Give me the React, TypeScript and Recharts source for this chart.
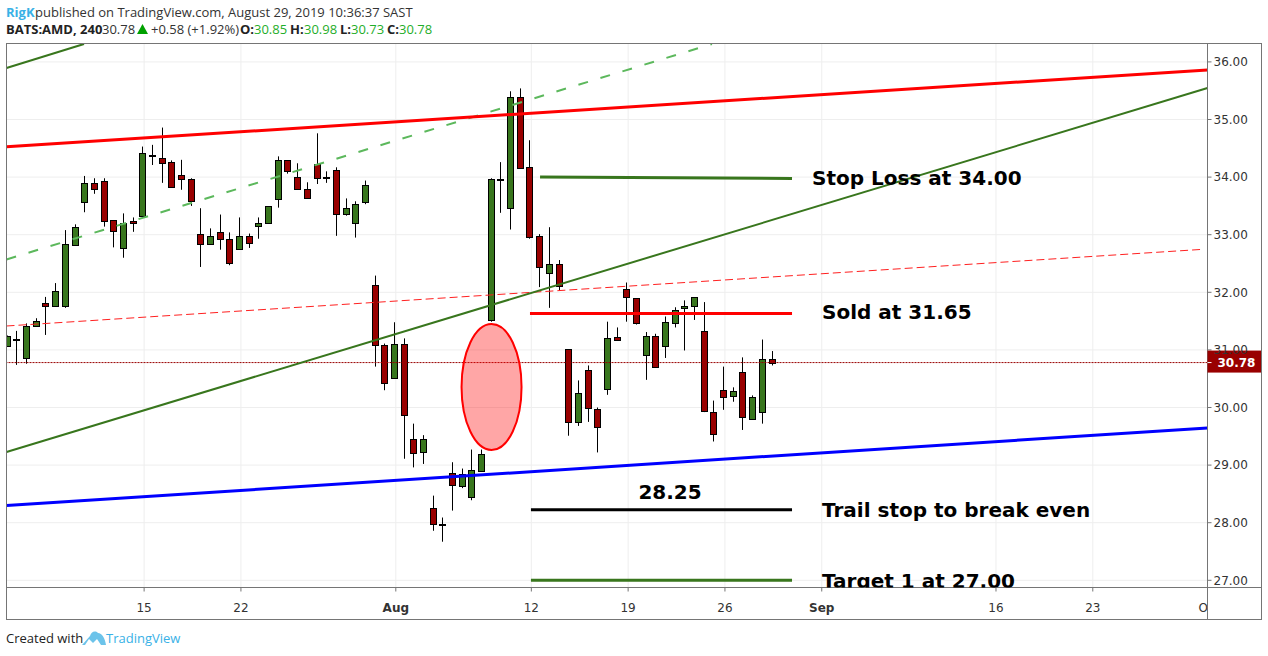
import React from 'react';
import {
  Bar,
  CartesianGrid,
  ComposedChart,
  ReferenceDot,
  ReferenceLine,
  XAxis,
  YAxis,
} from 'recharts';

const opens = [
  31.07, 31.17, 30.86, 31.41, 31.81, 31.77, 31.75, 32.83, 33.56, 33.89,
  33.93, 33.25, 32.78, 33.23, 33.32, 34.38, 34.34, 34.26, 34.03, 33.96,
  33.01, 32.83, 33.04, 32.92, 32.75, 32.97, 33.16, 33.2, 33.61, 34.29,
  34.01, 33.8, 34.22, 33.99, 34.12, 33.37, 33.21, 33.56, 32.12, 31.08,
  30.51, 31.1, 29.46, 29.22, 28.25, 27.98, 28.86, 28.63, 28.44, 28.91,
  31.51, 33.95, 33.46, 35.39, 34.17, 32.97, 32.33, 32.49, 31.01, 29.74,
  30.65, 29.97, 30.31, 31.22, 32.05, 31.9, 30.92, 31.25, 31.06, 31.48,
  31.74, 31.76, 31.32, 29.93, 30.31, 30.19, 30.61, 29.81, 29.92, 30.85,
];
const closes = [
  31.25, 31.19, 31.41, 31.5, 31.76, 32.03, 32.83, 33.14, 33.89, 33.79,
  33.23, 33.06, 33.21, 33.2, 34.41, 34.39, 34.26, 33.82, 33.96, 33.58,
  32.83, 32.97, 32.92, 32.5, 32.97, 32.85, 33.21, 33.49, 34.29, 34.1,
  33.8, 33.65, 33.98, 34.0, 33.35, 33.47, 33.54, 33.86, 31.08, 30.42,
  31.1, 29.86, 29.22, 29.45, 27.97, 27.97, 28.65, 28.84, 28.91, 29.2,
  33.96, 33.96, 35.39, 34.16, 32.95, 32.43, 32.49, 32.1, 29.74, 30.25,
  29.99, 29.66, 31.2, 31.17, 31.91, 31.46, 31.25, 30.71, 31.48, 31.7,
  31.77, 31.91, 29.93, 29.55, 30.19, 30.28, 29.83, 30.19, 30.84, 30.78,
];
const highs = [
  31.25, 31.33, 31.46, 31.55, 31.92, 32.16, 33.08, 33.18, 34.02, 33.98,
  33.98, 33.25, 33.37, 33.3, 34.53, 34.56, 34.86, 34.29, 34.3, 33.98,
  33.46, 33.11, 33.35, 33.04, 33.3, 33.02, 33.3, 33.49, 34.36, 34.29,
  34.24, 33.91, 34.76, 34.1, 34.17, 33.63, 33.58, 33.94, 32.29, 31.11,
  31.48, 31.2, 29.72, 29.52, 28.47, 28.09, 29.05, 28.94, 29.27, 29.27,
  33.98, 34.26, 35.49, 35.54, 34.64, 33.01, 33.13, 32.56, 31.01, 30.47,
  30.73, 30.0, 31.49, 31.39, 32.17, 31.9, 31.31, 31.28, 31.58, 31.74,
  31.86, 31.91, 31.83, 30.12, 30.71, 30.35, 30.87, 30.21, 31.18, 30.98,
];
const lows = [
  31.07, 30.74, 30.76, 31.41, 31.26, 31.77, 31.73, 32.83, 33.39, 33.71,
  33.14, 32.78, 32.6, 33.05, 33.32, 34.21, 33.9, 33.82, 33.78, 33.5,
  32.44, 32.83, 32.74, 32.47, 32.75, 32.77, 32.93, 33.2, 33.47, 34.06,
  33.79, 33.65, 33.88, 33.9, 32.98, 33.33, 32.95, 33.53, 30.71, 30.3,
  30.51, 29.11, 28.96, 29.02, 27.86, 27.67, 28.21, 28.6, 28.39, 28.91,
  31.49, 33.38, 33.09, 34.16, 32.93, 32.09, 31.73, 32.03, 29.51, 29.68,
  29.75, 29.22, 30.22, 31.17, 31.49, 31.44, 30.48, 30.71, 30.86, 31.39,
  30.99, 31.52, 29.92, 29.41, 29.96, 30.1, 29.61, 29.81, 29.72, 30.73,
];

const priceTicks = [27, 28, 29, 30, 31, 32, 33, 34, 35, 36];
const dateTicks = [14, 24, 40, 54, 64, 74, 84, 102, 112, 124];
const dateLabels = ['15', '22', 'Aug', '12', '19', '26', 'Sep', '16', '23', 'Oct'];
const gridDates = [14, 24, 40, 54, 64, 74, 84, 102, 112];

const channelTop = [{ x: -0.217, y: 35.894 }, { x: 7.79, y: 36.311 }];
const channelMid = [{ x: -0.217, y: 32.57 }, { x: 72.66, y: 36.311 }];
const resistance = [{ x: -0.217, y: 34.528 }, { x: 123.85, y: 35.859 }];
const midResistance = [{ x: -0.217, y: 31.415 }, { x: 123.08, y: 32.743 }];
const risingSupport = [{ x: -0.217, y: 29.227 }, { x: 123.85, y: 35.547 }];
const support = [{ x: -0.217, y: 28.299 }, { x: 123.85, y: 29.644 }];
const stopLoss = [{ x: 54.9, y: 34.002 }, { x: 80.93, y: 33.976 }];
const soldAt = [{ x: 53.86, y: 31.63 }, { x: 80.93, y: 31.63 }];
const trailStop = [{ x: 53.96, y: 28.226 }, { x: 80.93, y: 28.226 }];
const target = [{ x: 53.96, y: 27.0 }, { x: 80.93, y: 27.0 }];

const lastPrice = 30.78;
const highlight = { x: 49.89, y: 30.356 };

const notes = [
  { x: 83.0, y: 33.985, text: 'Stop Loss at 34.00' },
  { x: 84.03, y: 31.66, text: 'Sold at 31.65' },
  { x: 84.03, y: 28.22, text: 'Trail stop to break even' },
  { x: 84.03, y: 26.99, text: 'Target 1 at 27.00' },
];
const trailLabel = { x: 68.33, y: 28.53, text: '28.25' };

const candles = opens.map((open, i) => ({
  index: i,
  open,
  close: closes[i],
  high: highs[i],
  low: lows[i],
}));

const UP = '#38761d';
const DOWN = '#990000';
const AXIS = '#757575';
const TEXT = '#333333';
const LABEL_FONT = '"DejaVu Sans", sans-serif';

const PLOT = { left: 6.5, top: 43.5, width: 1201, height: 544 };

function Candle(props: any) {
  const { x, y, width, height, payload } = props;
  const top = Math.min(y, y + height);
  const bottom = Math.max(y, y + height);
  const perUnit = (bottom - top) / (payload.high - payload.low);
  const center = Math.floor(x + width / 2 - 1) + 0.5;
  const bodyTop = top + (payload.high - Math.max(payload.open, payload.close)) * perUnit;
  const bodyBottom = top + (payload.high - Math.min(payload.open, payload.close)) * perUnit;
  const fill = payload.close >= payload.open ? UP : DOWN;
  return (
    <g>
      <line x1={center} x2={center} y1={top} y2={bottom} stroke="#000" strokeWidth={1} />
      <rect
        x={center - 3}
        y={Math.round(bodyTop) + 0.5}
        width={6}
        height={Math.max(Math.round(bodyBottom - bodyTop), 0.5)}
        fill={fill}
        stroke="#000"
        strokeWidth={1}
      />
    </g>
  );
}

function DateTick(props: any) {
  const { x, y, payload } = props;
  const label = dateLabels[dateTicks.indexOf(payload.value)];
  const bold = label === 'Aug' || label === 'Sep';
  return (
    <g>
      <clipPath id={`date-clip-${payload.value}`}>
        <rect x={PLOT.left} y={PLOT.top} width={PLOT.width} height={640 - PLOT.top} />
      </clipPath>
      <g clipPath={`url(#date-clip-${payload.value})`}>
        <line x1={x} x2={x} y1={PLOT.top + PLOT.height} y2={PLOT.top + PLOT.height + 4} stroke={AXIS} />
        <text
          x={x}
          y={y + 16}
          textAnchor="middle"
          fontSize={12}
          fontWeight={bold ? 700 : 400}
          fontFamily={LABEL_FONT}
          fill={TEXT}
        >
          {label}
        </text>
      </g>
    </g>
  );
}

function Note(props: any) {
  const { cx, cy, text, anchor } = props;
  return (
    <g>
      <clipPath id={`note-clip-${text.length}`}>
        <rect x={PLOT.left} y={PLOT.top} width={PLOT.width} height={PLOT.height} />
      </clipPath>
      <text
        x={cx}
        y={cy}
        dy="0.36em"
        textAnchor={anchor}
        fontSize={20}
        fontWeight={700}
        fontFamily={LABEL_FONT}
        fill="#000"
        clipPath={`url(#note-clip-${text.length})`}
      >
        {text}
      </text>
    </g>
  );
}

function PriceTag(props: any) {
  const { cx, cy } = props;
  return (
    <g>
      <rect x={cx} y={cy - 12} width={54.5} height={22} fill={DOWN} />
      <line x1={cx} x2={cx + 4} y1={cy} y2={cy} stroke="#fff" />
      <text
        x={cx + 10}
        y={cy + 4}
        fontSize={12}
        fontWeight={700}
        fontFamily={LABEL_FONT}
        fill="#fff"
      >
        {lastPrice.toFixed(2)}
      </text>
    </g>
  );
}

function Segment({ points, color, width, dash }: any) {
  return null;
}

const headerLeft = (x: number, y: number, color: string, text: string, bold = false) => (
  <span
    style={{
      position: 'absolute',
      left: x,
      top: y,
      color,
      fontWeight: bold ? 700 : 400,
      whiteSpace: 'nowrap',
    }}
  >
    {text}
  </span>
);

export default function App() {
  const green = '#1fae2a';
  return (
    <div
      style={{
        position: 'absolute',
        left: 0,
        top: 0,
        width: 1268,
        height: 656,
        background: '#fff',
        overflow: 'hidden',
        fontFamily: '"Open Sans", sans-serif',
        fontSize: 13,
        lineHeight: '18px',
      }}
    >
      {headerLeft(6, 3, '#39b1e6', 'RigK', true)}
      {headerLeft(35, 3, TEXT, 'published on TradingView.com, August 29, 2019 10:36:37 SAST')}
      {headerLeft(6, 20, '#222', 'BATS:AMD, 240', true)}
      {headerLeft(102, 20, TEXT, '30.78')}
      <svg style={{ position: 'absolute', left: 137, top: 24 }} width={11} height={10}>
        <polygon points="5.5,0 11,10 0,10" fill="#00a000" />
      </svg>
      {headerLeft(151, 20, TEXT, '+0.58 (+1.92%)')}
      {headerLeft(240, 20, '#222', 'O:', true)}
      {headerLeft(254, 20, green, '30.85')}
      {headerLeft(290, 20, '#222', 'H:', true)}
      {headerLeft(304, 20, green, '30.98')}
      {headerLeft(340, 20, '#222', 'L:', true)}
      {headerLeft(351, 20, green, '30.73')}
      {headerLeft(387, 20, '#222', 'C:', true)}
      {headerLeft(399, 20, green, '30.78')}

      <ComposedChart
        width={1268}
        height={656}
        data={candles}
        margin={{ top: 43.5, right: 6.5, bottom: 37, left: 6.5 }}
        style={{ position: 'absolute', left: 0, top: 0 }}
      >
        <CartesianGrid
          stroke="#eeeeee"
          strokeWidth={1}
          verticalValues={gridDates}
          horizontalValues={priceTicks}
        />
        <XAxis
          dataKey="index"
          type="number"
          scale="linear"
          domain={[-0.217, 123.85]}
          allowDataOverflow
          ticks={dateTicks}
          interval={0}
          height={31.5}
          axisLine={{ stroke: AXIS }}
          tickLine={false}
          tick={<DateTick />}
        />
        <YAxis
          type="number"
          orientation="right"
          domain={[26.875, 36.3195]}
          allowDataOverflow
          ticks={priceTicks}
          interval={0}
          width={54}
          axisLine={{ stroke: AXIS }}
          tickSize={4}
          tickLine={{ stroke: AXIS }}
          tickFormatter={(v: number) => v.toFixed(2)}
          tick={{ fontSize: 12, fontFamily: LABEL_FONT, fill: TEXT }}
        />
        <Bar
          dataKey={(d: any) => [d.low, d.high]}
          barSize={7}
          isAnimationActive={false}
          shape={<Candle />}
        />
        <ReferenceLine y={lastPrice} stroke={DOWN} strokeWidth={1} strokeDasharray="2 1" />
        <ReferenceLine segment={channelTop} stroke={UP} strokeWidth={2} ifOverflow="visible" />
        <ReferenceLine segment={channelMid} stroke="#5cb85c" strokeWidth={2} strokeDasharray="10 13" ifOverflow="visible" />
        <ReferenceLine segment={midResistance} stroke="#ff2020" strokeWidth={1} strokeDasharray="8 4" ifOverflow="visible" />
        <ReferenceLine segment={risingSupport} stroke={UP} strokeWidth={2} ifOverflow="visible" />
        <ReferenceLine segment={resistance} stroke="#ff0000" strokeWidth={3} ifOverflow="visible" />
        <ReferenceLine segment={support} stroke="#0000ff" strokeWidth={3} ifOverflow="visible" />
        <ReferenceLine segment={stopLoss} stroke={UP} strokeWidth={3} ifOverflow="visible" />
        <ReferenceLine segment={soldAt} stroke="#ff0000" strokeWidth={3} ifOverflow="visible" />
        <ReferenceLine segment={trailStop} stroke="#000000" strokeWidth={3} ifOverflow="visible" />
        <ReferenceLine segment={target} stroke={UP} strokeWidth={3} ifOverflow="visible" />
        <ReferenceDot
          x={highlight.x}
          y={highlight.y}
          shape={(p: any) => (
            <ellipse
              cx={p.cx}
              cy={p.cy}
              rx={30}
              ry={63}
              fill="rgba(255,0,0,0.35)"
              stroke="#ff0000"
              strokeWidth={2}
            />
          )}
        />
        {notes.map((n) => (
          <ReferenceDot
            key={n.text}
            x={n.x}
            y={n.y}
            shape={(p: any) => <Note cx={p.cx} cy={p.cy} text={n.text} anchor="start" />}
          />
        ))}
        <ReferenceDot
          x={trailLabel.x}
          y={trailLabel.y}
          shape={(p: any) => <Note cx={p.cx} cy={p.cy} text={trailLabel.text} anchor="middle" />}
        />
        <ReferenceDot x={123.85} y={lastPrice} shape={(p: any) => <PriceTag cx={p.cx} cy={p.cy} />} />
      </ComposedChart>

      <div style={{ position: 'absolute', left: 6, top: 43, width: 1256, height: 577, boxSizing: 'border-box', border: `1px solid ${AXIS}`, pointerEvents: 'none' }} />
      <div style={{ position: 'absolute', left: 1207, top: 587, width: 1, height: 32, background: AXIS }} />
      <div style={{ position: 'absolute', left: 1207, top: 587, width: 55, height: 1, background: AXIS }} />

      {headerLeft(6, 629, '#222', 'Created with')}
      <svg style={{ position: 'absolute', left: 82, top: 630 }} width={24} height={16} viewBox="0 0 24 16">
        <path
          d="M0 15 L8 6 C9 2 13 0 16 3 C20 3 23 8 24 15 L19 15 L15 9 L11 13 L7 9 L3 15 Z"
          fill="#6cc3ea"
        />
      </svg>
      {headerLeft(106, 629, '#39b1e6', 'TradingView')}
    </div>
  );
}
